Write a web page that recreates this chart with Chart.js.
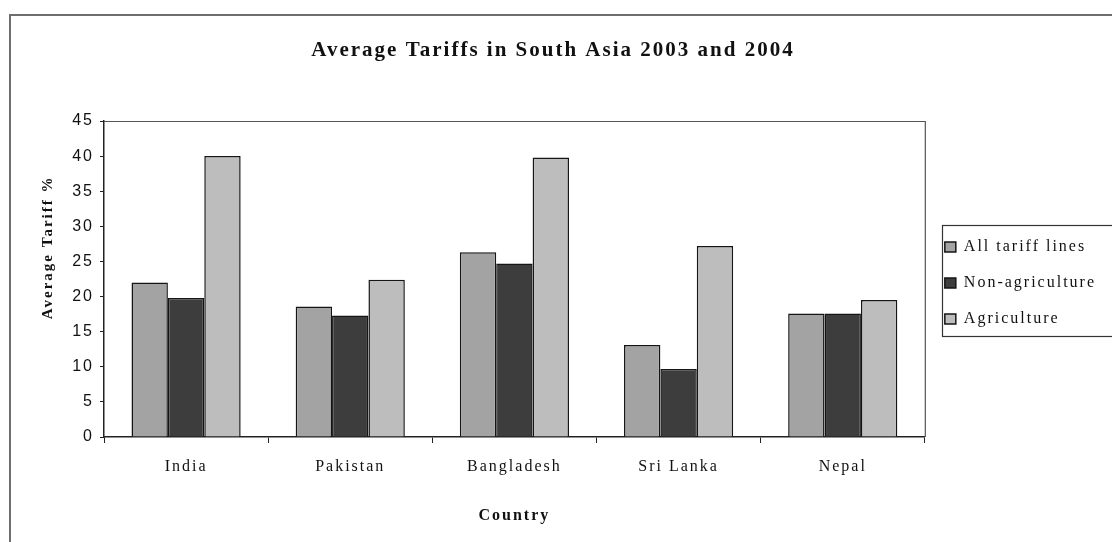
<!DOCTYPE html>
<html><head><meta charset="utf-8">
<script src="https://cdn.jsdelivr.net/npm/chart.js@4/dist/chart.umd.min.js"></script>
<style>
html,body{margin:0;padding:0;background:#fff;overflow:hidden;}
#wrap{position:relative;width:1112px;height:542px;overflow:hidden;}
#frame{position:absolute;left:9px;top:14px;width:1200px;height:600px;border-top:2px solid #6e6e6e;border-left:2px solid #6e6e6e;pointer-events:none;}
canvas{position:absolute;left:0;top:0;}
</style></head><body>
<div id="wrap"><canvas id="c" width="1112" height="542"></canvas><div id="frame"></div></div>
<script>
const categories = ['India', 'Pakistan', 'Bangladesh', 'Sri Lanka', 'Nepal'];
const allTariffLines = [22.0, 18.6, 26.3, 13.1, 17.6];
const nonAgriculture = [19.8, 17.3, 24.7, 9.7, 17.6];
const agriculture = [40.0, 22.4, 39.8, 27.2, 19.5];
const seriesNames = ['All tariff lines', 'Non-agriculture', 'Agriculture'];
const yTickValues = [0, 5, 10, 15, 20, 25, 30, 35, 40, 45];
const chartTitle = 'Average Tariffs in South Asia 2003 and 2004';
const yAxisTitle = 'Average Tariff %';
const xAxisTitle = 'Country';

const serif = "'Liberation Serif', 'Times New Roman', serif";
const sans = "'Liberation Sans', Arial, sans-serif";

const spacingPlugin = {
  id: 'spacing',
  beforeLayout(c) { c.ctx.letterSpacing = '2px'; },
  beforeDraw(c) { c.ctx.letterSpacing = '2px'; }
};

const framePlugin = {
  id: 'frames',
  afterDraw(c) {
    const ctx = c.ctx, a = c.chartArea;
    ctx.save();
    ctx.strokeStyle = '#555';
    ctx.lineWidth = 1.2;
    ctx.beginPath();
    ctx.moveTo(a.left, a.top + 0.5);
    ctx.lineTo(a.right + 0.5, a.top + 0.5);
    ctx.lineTo(a.right + 0.5, a.bottom);
    ctx.stroke();
    const lg = c.legend;
    const hb = lg.legendHitBoxes;
    if (hb && hb.length) {
      const top = Math.round(hb[0].top - 14) + 0.5;
      const bottom = Math.round(hb[hb.length - 1].top + hb[hb.length - 1].height + 9) + 0.5;
      const left = Math.round(lg.left + 17) + 0.5;
      ctx.strokeStyle = '#333';
      ctx.lineWidth = 1.2;
      ctx.strokeRect(left, top, 400, bottom - top);
    }
    ctx.restore();
  }
};

new Chart(document.getElementById('c'), {
  type: 'bar',
  data: {
    labels: categories,
    datasets: [
      { label: seriesNames[0], data: allTariffLines, backgroundColor: '#a3a3a3', borderColor: '#151515', borderWidth: 1.5 },
      { label: seriesNames[1], data: nonAgriculture, backgroundColor: '#3d3d3d', borderColor: '#151515', borderWidth: 1.5 },
      { label: seriesNames[2], data: agriculture, backgroundColor: '#bdbdbd', borderColor: '#151515', borderWidth: 1.5 }
    ]
  },
  options: {
    responsive: false,
    animation: false,
    devicePixelRatio: 1,
    layout: { padding: { left: 0, top: 0, bottom: 0, right: 6 } },
    datasets: { bar: { barPercentage: 1, categoryPercentage: 0.665 } },
    plugins: {
      tooltip: { enabled: false },
      title: {
        display: true,
        text: chartTitle,
        color: '#111',
        font: { family: serif, size: 21, weight: 'bold' },
        padding: { top: 38, bottom: 57.8 }
      },
      legend: {
        position: 'right',
        align: 'center',
        fullSize: false,
        title: { display: true, text: '', font: { size: 5 }, padding: 1 },
        labels: {
          color: '#111',
          font: { family: serif, size: 16 },
          boxWidth: 11,
          boxHeight: 10,
          padding: 20
        }
      }
    },
    scales: {
      x: {
        grid: { display: true, drawOnChartArea: false, drawTicks: true, tickLength: 6, color: '#222', lineWidth: 1 },
        border: { display: true, color: '#222', width: 1.5 },
        ticks: { color: '#111', font: { family: serif, size: 16 }, padding: 14 },
        title: { display: true, text: xAxisTitle, color: '#111', font: { family: serif, size: 16, weight: 'bold' }, padding: { top: 0, bottom: 17 } },
        afterFit(s) { s.height = 105; }
      },
      y: {
        min: 0, max: 45,
        afterBuildTicks(s) { s.ticks = yTickValues.map(v => ({ value: v })); },
        grid: { display: true, drawOnChartArea: false, drawTicks: true, tickLength: 4, color: '#222' },
        border: { display: true, color: '#222', width: 1.5 },
        ticks: { color: '#111', font: { family: sans, size: 16 }, padding: 6 },
        title: { display: true, text: '           ' + yAxisTitle, color: '#111', font: { family: serif, size: 15, weight: 'bold' }, padding: { top: 39, bottom: 0 } },
        afterFit(s) { s.width = 104; }
      }
    }
  },
  plugins: [spacingPlugin, framePlugin]
});
</script>
</body></html>
